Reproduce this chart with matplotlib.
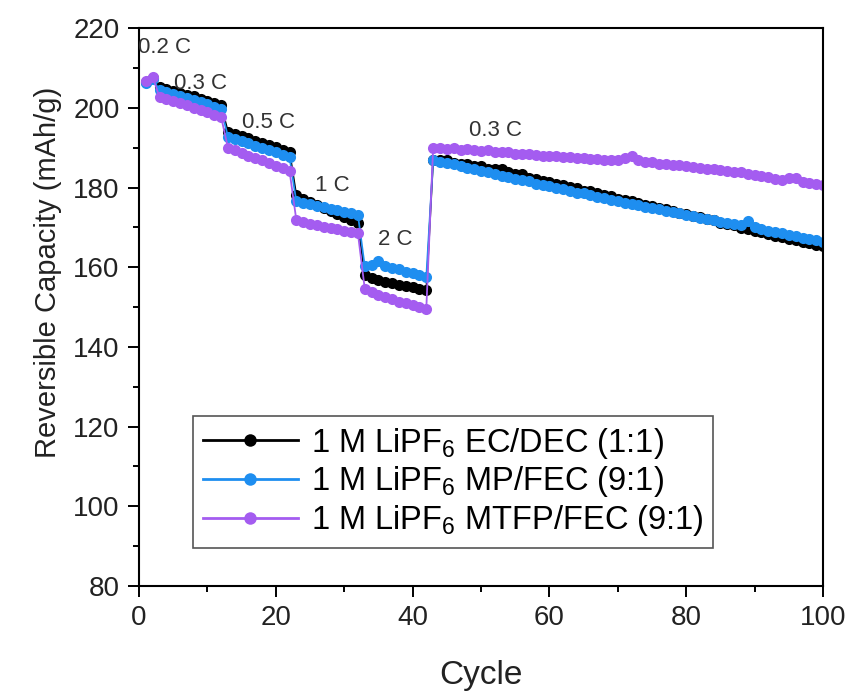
import matplotlib
matplotlib.use("Agg")
import matplotlib.pyplot as plt
import numpy as np
from matplotlib.ticker import MultipleLocator

plt.rcParams['font.family'] = ['Liberation Sans', 'DejaVu Sans']
plt.rcParams['mathtext.fontset'] = 'custom'
plt.rcParams['mathtext.rm'] = 'Liberation Sans'

cycles = np.arange(1, 101)

# 1 M LiPF6 EC/DEC (1:1)
ec_dec = [
    206.5, 207.5,
    205.2, 204.6, 204.3, 203.8, 203.2, 202.9, 202.3, 201.7, 201.2, 200.6,
    194.0, 193.4, 192.9, 192.4, 191.7, 191.2, 190.6, 190.1, 189.5, 189.0,
    178.0, 177.1, 176.4, 175.6, 174.8, 174.2, 173.4, 172.6, 171.9, 171.2,
    158.0, 157.3, 156.9, 156.4, 156.0, 155.6, 155.2, 154.9, 154.5, 154.2,
    187.0, 186.8, 186.9, 186.2, 186.0, 185.9, 185.3, 185.4, 184.7, 184.6,
    184.6, 183.8, 183.4, 183.3, 182.5, 182.2, 181.7, 181.4, 180.9, 180.6,
    180.1, 179.9, 179.2, 179.0, 178.6, 178.1, 177.9, 177.2, 176.9, 176.5,
    176.1, 175.6, 175.4, 174.8, 174.5, 174.1, 173.7, 173.4, 172.8, 172.6,
    172.0, 171.8, 171.1, 170.8, 170.5, 169.9, 169.6, 169.0, 168.8, 168.3,
    167.9, 167.6, 167.1, 166.8, 166.3, 166.0, 165.6, 165.2,
]

# 1 M LiPF6 MP/FEC (9:1)
mp_fec = [
    206.3, 207.2,
    204.4, 203.9, 203.5, 203.0, 202.5, 202.0, 201.4, 200.9, 200.3, 199.8,
    192.8, 192.2, 191.6, 191.1, 190.5, 190.0, 189.3, 188.8, 188.2, 187.6,
    176.5, 176.2, 175.8, 175.4, 175.1, 174.7, 174.3, 173.9, 173.5, 173.2,
    160.2, 160.6, 161.6, 160.4, 159.8, 159.5, 158.9, 158.6, 158.1, 157.5,
    186.9, 186.5, 186.2, 185.8, 185.4, 185.0, 184.6, 184.2, 183.8, 183.4,
    183.0, 182.7, 182.2, 181.9, 181.6, 181.0, 180.7, 180.3, 180.0, 179.5,
    179.2, 178.7, 178.5, 178.0, 177.7, 177.4, 176.9, 176.6, 176.2, 175.9,
    175.5, 175.2, 174.8, 174.5, 174.1, 173.8, 173.5, 173.1, 172.8, 172.4,
    172.1, 171.8, 171.4, 171.1, 170.8, 170.6, 171.6, 170.0, 169.5, 169.1,
    168.8, 168.5, 168.1, 167.8, 167.4, 167.0, 166.7, 166.3,
]

# 1 M LiPF6 MTFP/FEC (9:1)
mtfp_fec = [
    206.8, 207.8,
    202.6, 202.1, 201.6, 201.1, 200.6, 200.0, 199.4, 198.9, 198.3, 197.7,
    190.0, 189.3, 188.7, 188.0, 187.4, 186.8, 186.1, 185.5, 184.9, 184.2,
    171.8, 171.4, 170.9, 170.6, 170.2, 169.9, 169.5, 169.2, 168.8, 168.5,
    154.6, 153.7, 153.0, 152.5, 151.9, 151.3, 150.9, 150.4, 150.0, 149.6,
    190.0, 189.9, 189.7, 189.8, 189.5, 189.6, 189.3, 189.2, 189.3, 188.9,
    188.8, 188.8, 188.5, 188.4, 188.5, 188.1, 188.0, 187.9, 187.8, 187.6,
    187.7, 187.4, 187.3, 187.1, 187.2, 186.9, 186.8, 187.0, 187.5, 187.8,
    186.8, 186.4, 186.3, 186.0, 185.9, 185.7, 185.6, 185.3, 185.2, 185.0,
    184.7, 184.6, 184.4, 184.1, 184.0, 183.8, 183.4, 183.2, 183.0, 182.6,
    182.1, 182.0, 182.5, 182.3, 181.5, 181.2, 180.9, 180.6,
]

labels = [
    r'1 M LiPF$_\mathregular{6}$ EC/DEC (1:1)',
    r'1 M LiPF$_\mathregular{6}$ MP/FEC (9:1)',
    r'1 M LiPF$_\mathregular{6}$ MTFP/FEC (9:1)',
]
colors = ['black', '#1e8ef0', '#a45cf0']

# rate annotations: (text, cycle, capacity)
rate_labels = ['0.2 C', '0.3 C', '0.5 C', '1 C', '2 C', '0.3 C']
rate_x = [3.7, 9.0, 19.0, 28.3, 37.4, 52.1]
rate_y = [215.2, 206.2, 196.4, 180.6, 167.0, 194.4]

fig = plt.figure(figsize=(8.55, 6.95), dpi=100)
ax = fig.add_axes([0.1626, 0.157, 0.8, 0.8025])

for data, lab, col in zip([ec_dec, mp_fec, mtfp_fec], labels, colors):
    ax.plot(cycles, data, '-o', color=col, markersize=8, linewidth=1.3,
            markeredgewidth=0, label=lab)

for t, x, y in zip(rate_labels, rate_x, rate_y):
    ax.text(x, y, t, fontsize=16, color='#333333', ha='center', va='center')

ax.set_xlim(0, 100)
ax.set_ylim(80, 220)
ax.xaxis.set_major_locator(MultipleLocator(20))
ax.xaxis.set_minor_locator(MultipleLocator(10))
ax.yaxis.set_major_locator(MultipleLocator(20))
ax.yaxis.set_minor_locator(MultipleLocator(10))
ax.tick_params(which='both', direction='out', top=False, right=False,
               width=1.4, labelsize=20, colors='black', labelcolor='#222222')
ax.tick_params(which='major', length=8, pad=6)
ax.tick_params(which='minor', length=4.5)
for sp in ax.spines.values():
    sp.set_linewidth(1.5)

ax.set_xlabel('Cycle', fontsize=24, color='#222222', labelpad=21)
ax.set_ylabel('Reversible Capacity (mAh/g)', fontsize=21, color='#222222')
ax.yaxis.set_label_coords(-0.113, 0.5625)

leg = ax.legend(loc='lower left', bbox_to_anchor=(0.079, 0.0676), borderaxespad=0,
                fontsize=23.5, fancybox=False, edgecolor='#555555', framealpha=1,
                numpoints=1, handlelength=2.9, labelspacing=0.12,
                borderpad=0.3, handletextpad=0.4)
leg.get_frame().set_linewidth(1.2)
for h in leg.legend_handles:
    h.set_markersize(9)
    h.set_linewidth(2)

fig.savefig('out.png', dpi=100)
